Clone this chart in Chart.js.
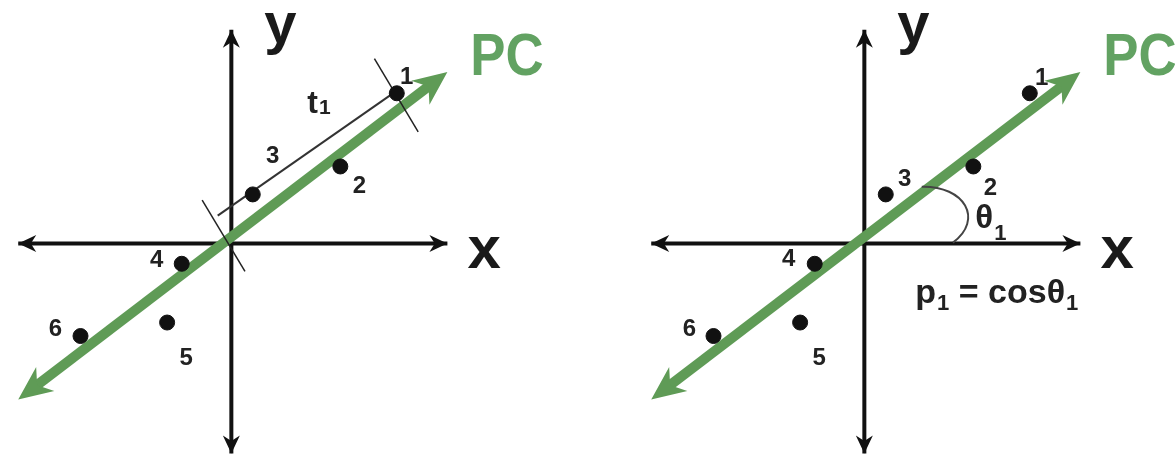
<!DOCTYPE html>
<html>
<head>
<meta charset="utf-8">
<script src="https://cdn.jsdelivr.net/npm/chart.js@4/dist/chart.umd.min.js"></script>
<style>
html, body { margin: 0; padding: 0; background: #fff; overflow: hidden; }
#wrap { position: relative; width: 1175px; height: 463px; overflow: hidden; }
.panel { position: absolute; top: 0; width: 633px; height: 463px; }
</style>
</head>
<body>
<div id="wrap">
    <div class="panel" style="left:0"><canvas id="left" width="633" height="463"></canvas></div>
    <div class="panel" style="left:633px"><canvas id="right" width="633" height="463"></canvas></div>
</div>
<script>
// datos de los puntos (mismos en los dos paneles)
const pointLabels = ['1', '2', '3', '4', '5', '6']
const pointX = [17.0, 11.2, 2.2, -5.1, -6.6, -15.5]
const pointY = [15.6, 8.0, 5.1, -2.1, -8.2, -9.6]

// componente principal (puntas de las flechas)
const pcX = [-21.9, 22.2]
const pcY = [-16.2, 17.8]

// ejes
const axisX = [-21.9, 22.2]
const axisY = [-21.8, 22.2]

// rango visible
const xRange = [-22.9, 40.4]
const yRange = [-21.9, 24.4]

// proyeccion t1 del punto 1 (panel izquierdo)
const projX = [-1.4, 16.9]
const projY = [2.9, 15.8]
const tickTopX = [14.7, 19.2]
const tickTopY = [19.2, 11.6]
const tickBotX = [-3.0, 1.4]
const tickBotY = [4.5, -2.9]

// arco del angulo theta (panel derecho)
const arcX = [5.9, 10.3, 12.3, 9.1]
const arcY = [5.9, 6.0, 2.5, 0.1]

const GREEN = '#5f9b56'
const FONT = '"Liberation Sans", Arial, sans-serif'

const pts = (xs, ys) => xs.map((x, i) => ({ x: x, y: ys[i] }))

// recorta la linea para que no asome por la punta de la flecha
function shortened(xs, ys, cut) {
    const dx = xs[1] - xs[0], dy = ys[1] - ys[0]
    const d = Math.hypot(dx, dy)
    const ux = dx / d * cut, uy = dy / d * cut
    return [{ x: xs[0] + ux, y: ys[0] + uy }, { x: xs[1] - ux, y: ys[1] - uy }]
}

function lineSet(data, color, width, order) {
    return {
        data: data,
        showLine: true,
        borderColor: color,
        borderWidth: width,
        pointRadius: 0,
        order: order
    }
}

function arrowHead(ctx, x0, y0, x1, y1, len, half, color) {
    const dx = x1 - x0, dy = y1 - y0
    const d = Math.hypot(dx, dy)
    const ux = dx / d, uy = dy / d
    const px = -uy, py = ux
    const bx = x1 - ux * len, by = y1 - uy * len
    const nx = x1 - ux * len * 0.7, ny = y1 - uy * len * 0.7
    ctx.fillStyle = color
    ctx.beginPath()
    ctx.moveTo(x1, y1)
    ctx.lineTo(bx + px * half, by + py * half)
    ctx.lineTo(nx, ny)
    ctx.lineTo(bx - px * half, by - py * half)
    ctx.closePath()
    ctx.fill()
}

function text(ctx, str, x, y, size, color, sx) {
    ctx.save()
    ctx.font = 'bold ' + size + 'px ' + FONT
    ctx.fillStyle = color
    ctx.textAlign = 'left'
    ctx.textBaseline = 'alphabetic'
    ctx.translate(x, y)
    ctx.scale(sx || 1, 1)
    ctx.fillText(str, 0, 0)
    const w = ctx.measureText(str).width * (sx || 1)
    ctx.restore()
    return x + w
}

const decoPlugin = {
    id: 'deco',
    afterDatasetsDraw(chart, args, opts) {
        const ctx = chart.ctx
        const sx = chart.scales.x, sy = chart.scales.y
        const px = v => sx.getPixelForValue(v)
        const py = v => sy.getPixelForValue(v)
        const oX = px(0), oY = py(0)

        // flechas de los ejes
        arrowHead(ctx, px(0), oY, px(axisX[1]), oY, 18, 8.5, '#111')
        arrowHead(ctx, px(0), oY, px(axisX[0]), oY, 18, 8.5, '#111')
        arrowHead(ctx, oX, py(0), oX, py(axisY[1]), 18, 8.5, '#111')
        arrowHead(ctx, oX, py(0), oX, py(axisY[0]), 18, 8.5, '#111')

        // flechas del PC
        arrowHead(ctx, px(pcX[0]), py(pcY[0]), px(pcX[1]), py(pcY[1]), 34, 15, GREEN)
        arrowHead(ctx, px(pcX[1]), py(pcY[1]), px(pcX[0]), py(pcY[0]), 34, 15, GREEN)

        if (opts.arc) {
            ctx.save()
            ctx.strokeStyle = '#444'
            ctx.lineWidth = 2
            ctx.beginPath()
            ctx.moveTo(px(arcX[0]), py(arcY[0]))
            ctx.bezierCurveTo(px(arcX[1]), py(arcY[1]), px(arcX[2]), py(arcY[2]), px(arcX[3]), py(arcY[3]))
            ctx.stroke()
            ctx.restore()
        }

        // etiquetas de los puntos
        ctx.save()
        ctx.font = 'bold 24px ' + FONT
        ctx.fillStyle = '#222'
        ctx.textAlign = 'center'
        ctx.textBaseline = 'middle'
        pointLabels.forEach((lab, i) => {
            const off = opts.labelOffsets[i]
            ctx.fillText(lab, px(pointX[i]) + off[0], py(pointY[i]) + off[1])
        })
        ctx.restore()

        // textos grandes
        text(ctx, 'y', oX + 33, oY - 201, 58, '#1a1a1a')
        text(ctx, 'x', px(axisX[1]) + 20, oY + 24, 60, '#1a1a1a')
        text(ctx, 'PC', oX + 239, oY - 169, 60, '#62a262', 0.88)

        if (opts.t1) {
            const e = text(ctx, 't', oX + 76, oY - 131, 32, '#222')
            text(ctx, '1', e + 1, oY - 130, 21, '#222')
        }
        if (opts.theta) {
            const e = text(ctx, 'θ', oX + 111, oY - 16, 33, '#222')
            text(ctx, '1', e + 1, oY - 4, 22, '#222')
            let e2 = text(ctx, 'p', oX + 51, oY + 59, 34, '#222')
            e2 = text(ctx, '1', e2 + 1, oY + 66, 22, '#222')
            e2 = text(ctx, ' = cosθ', e2, oY + 59, 34, '#222')
            text(ctx, '1', e2 + 1, oY + 66, 22, '#222')
        }
    }
}

function makePanel(id, extra, opts) {
    const datasets = [
        {
            data: pts(pointX, pointY),
            backgroundColor: '#111',
            borderColor: '#111',
            pointRadius: 7.5,
            order: 0
        },
        lineSet(shortened(pcX, pcY, 2.0), GREEN, 10, 2),
        lineSet(pts(axisX, [0, 0]), '#111', 4, 3),
        lineSet(pts([0, 0], axisY), '#111', 4, 3)
    ].concat(extra)

    new Chart(document.getElementById(id).getContext('2d'), {
        type: 'scatter',
        data: { datasets: datasets },
        options: {
            responsive: false,
            animation: false,
            events: [],
            layout: { padding: 0 },
            scales: {
                x: { type: 'linear', min: xRange[0], max: xRange[1], display: false },
                y: { type: 'linear', min: yRange[0], max: yRange[1], display: false }
            },
            plugins: {
                legend: { display: false },
                tooltip: { enabled: false },
                deco: opts
            }
        },
        plugins: [decoPlugin]
    })
}

makePanel('left', [
    lineSet(pts(projX, projY), '#333', 2, 1),
    lineSet(pts(tickTopX, tickTopY), '#222', 1.5, 1),
    lineSet(pts(tickBotX, tickBotY), '#222', 1.5, 1)
], {
    labelOffsets: [[10, -16], [19, 20], [20, -38], [-25, -3], [19, 36], [-25, -7]],
    t1: true
})

makePanel('right', [], {
    labelOffsets: [[12, -15], [17, 22], [19, -15], [-26, -4], [19, 36], [-24, -7]],
    arc: true,
    theta: true
})
</script>
</body>
</html>
